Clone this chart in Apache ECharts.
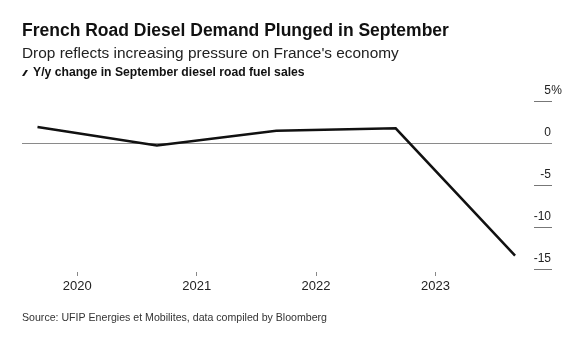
<!DOCTYPE html>
<html>
<head>
<meta charset="utf-8">
<script src="https://cdn.jsdelivr.net/npm/echarts@6/dist/echarts.min.js"></script>
<style>
  html, body { margin: 0; padding: 0; background: #fff; }
  #chart { width: 584px; height: 339px; }
</style>
</head>
<body>
<div id="chart"></div>
<script>
// Data
const years = [2019, 2020, 2021, 2022, 2023];   // September of each year
const month = 9;
const yoyChange = [1.9, -0.3, 1.45, 1.75, -13.4]; // % y/y change
const xTickYears = [2020, 2021, 2022, 2023];
const yTicks = [-15, -10, -5, 0, 5];

const titleText = 'French Road Diesel Demand Plunged in September';
const subtitleText = "Drop reflects increasing pressure on France's economy";
const seriesName = 'Y/y change in September diesel road fuel sales';
const sourceText = 'Source: UFIP Energies et Mobilites, data compiled by Bloomberg';

const FONT = '"Liberation Sans", Arial, Helvetica, sans-serif';

const points = years.map((y, i) => [y + (month - 1) / 12, yoyChange[i]]);

const chart = echarts.init(document.getElementById('chart'), null, { renderer: 'canvas' });
chart.setOption({
  animation: false,
  backgroundColor: '#ffffff',
  title: [
    { text: titleText, left: 22, top: 22, padding: 0,
      textStyle: { fontFamily: FONT, fontSize: 17.5, fontWeight: 'bold', color: '#111' } },
    { text: subtitleText, left: 22, top: 46, padding: 0,
      textStyle: { fontFamily: FONT, fontSize: 15.4, fontWeight: 'normal', color: '#222' } },
    { text: sourceText, left: 22, top: 313, padding: 0,
      textStyle: { fontFamily: FONT, fontSize: 10.6, fontWeight: 'normal', color: '#333' } }
  ],
  legend: {
    left: 22, top: 67, padding: 0,
    itemWidth: 6, itemHeight: 8, itemGap: 3,
    icon: 'path://M0,10 L3.8,10 L10,0 L6.2,0 Z',
    textStyle: { fontFamily: FONT, fontSize: 12.2, fontWeight: 'bold', color: '#111' },
    data: [{ name: seriesName, itemStyle: { color: '#111' } }]
  },
  grid: { left: 22, right: 32, top: 101, bottom: 70, containLabel: false },
  xAxis: {
    type: 'value',
    min: 2019.537,
    max: 2023.976,
    offset: 3,
    axisLine: { show: false, onZero: false },
    splitLine: { show: false },
    axisTick: { show: true, length: 4, customValues: xTickYears, lineStyle: { color: '#888', width: 1 } },
    axisLabel: {
      customValues: xTickYears,
      margin: 8,
      fontFamily: FONT, fontSize: 13, color: '#222',
      formatter: v => String(v)
    }
  },
  yAxis: {
    type: 'value',
    position: 'right',
    min: -15, max: 5, interval: 5,
    axisLine: { show: false },
    splitLine: { show: false },
    axisTick: { show: true, inside: true, length: 18, lineStyle: { color: '#777', width: 1 } },
    axisLabel: {
      inside: true,
      margin: -10,
      align: 'right',
      verticalAlign: 'bottom',
      padding: [0, 0, 4, 0],
      fontFamily: FONT, fontSize: 12, color: '#222',
      formatter: v => (v === 5 ? '{n|5}{p|%}' : '{n|' + v + '}{p| }'),
      rich: {
        n: { fontFamily: FONT, fontSize: 12, color: '#222' },
        p: { width: 11, align: 'left', fontFamily: FONT, fontSize: 12, color: '#222' }
      }
    }
  },
  series: [{
    name: seriesName,
    type: 'line',
    data: points,
    showSymbol: false,
    symbol: 'none',
    lineStyle: { color: '#111', width: 2.5, join: 'miter' },
    itemStyle: { color: '#111' },
    z: 3,
    markLine: {
      silent: true,
      symbol: 'none',
      label: { show: false },
      lineStyle: { color: '#8a8a8a', width: 1, type: 'solid' },
      data: [{ yAxis: 0 }],
      z: 1
    }
  }]
});
</script>
</body>
</html>
